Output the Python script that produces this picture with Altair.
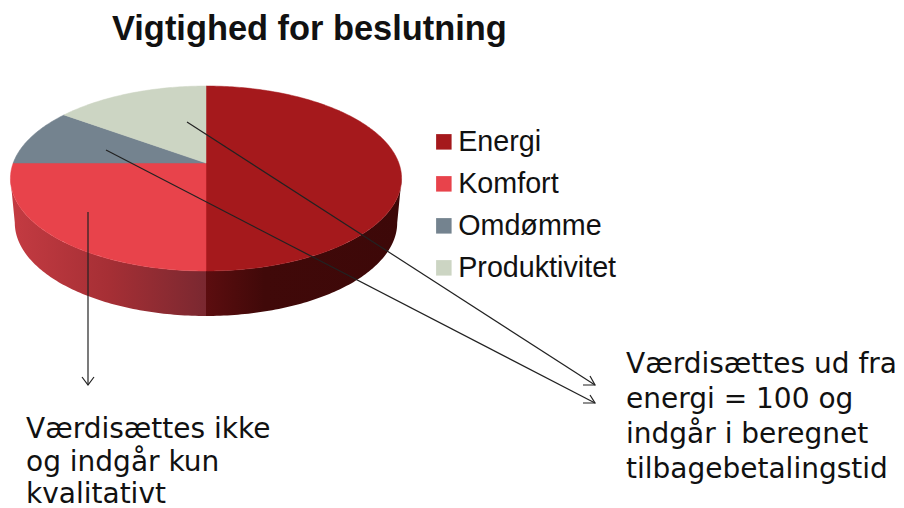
import math
import altair as alt
import pandas as pd

categories = ["Energi", "Komfort", "Omdømme", "Produktivitet"]
shares = [50, 25, 10, 15]
colors = ["#A5191C", "#E8434B", "#74838F", "#CCD5C3"]
title_text = "Vigtighed for beslutning"
note_left = ["Værdisættes ikke", "og indgår kun", "kvalitativt"]
note_right = ["Værdisættes ud fra", "energi = 100 og", "indgår i beregnet", "tilbagebetalingstid"]

W, H = 888, 500
x_scale = alt.Scale(domain=[8, 8 + W], range=[0, W])
y_scale = alt.Scale(domain=[8 + H, 8], range=[H, 0])
X = alt.X("x:Q", scale=x_scale, axis=None)
Y = alt.Y("y:Q", scale=y_scale, axis=None)

CX, CY, A, B, K = 206.0, 163.0, 192.8, 89.9, 0.1676
A2, B2, CY2 = 188.5, 90.7, 207.0
SIDE = math.acos(-K) / (2 * math.pi)  # rim fraction where the pie is widest


def rim(frac, a, b, cy):
    t = 2 * math.pi * frac
    u, v = math.sin(t), math.cos(t)
    d = 1 + K * v
    return CX + a * u / d, cy - b * v / d


def arc_pts(f0, f1, a, b, cy):
    n = max(4, int((f1 - f0) * 400))
    return [rim(f0 + (f1 - f0) * i / n, a, b, cy) for i in range(n + 1)]


def frame(pts, cat=None):
    closed = pts + [pts[0]]
    return pd.DataFrame(
        {"i": range(len(closed)), "x": [p[0] for p in closed], "y": [p[1] for p in closed], "Kategori": cat}
    )


# cumulative fractions
edges = [0.0]
for s in shares:
    edges.append(edges[-1] + s / sum(shares))

color_scale = alt.Scale(domain=categories, range=colors)

tops = []
for c, f0, f1 in zip(categories, edges[:-1], edges[1:]):
    tops.append(frame([(CX, CY)] + arc_pts(f0, f1, A, B, CY), c))
top_df = pd.concat(tops)

top_layer = alt.Chart(top_df).mark_line(filled=True, strokeWidth=0.5).encode(
    x=X,
    y=Y,
    order="i:Q",
    color=alt.Color(
        "Kategori:N",
        scale=color_scale,
        sort=categories,
        legend=alt.Legend(
            title=None,
            orient="none",
            legendX=421.5,
            legendY=119.5,
            padding=0,
            symbolType="square",
            symbolSize=240,
            symbolStrokeWidth=0,
            labelFont="Liberation Sans",
            labelFontSize=28.7,
            labelColor="#111111",
            labelOffset=0,
            rowPadding=12,
        ),
    ),
    stroke=alt.Stroke("Kategori:N", scale=color_scale, legend=None),
    detail="Kategori:N",
)


def wall(f0, f1, stops):
    pts = arc_pts(f0, f1, A, B, CY) + arc_pts(f0, f1, A2, B2, CY2)[::-1]
    grad = alt.Gradient(
        gradient="linear",
        x1=0, x2=1, y1=0, y2=0,
        stops=[alt.GradientStop(offset=o, color=c) for o, c in stops],
    )
    return alt.Chart(frame(pts)).mark_line(filled=True, fill=grad, strokeOpacity=0).encode(x=X, y=Y, order="i:Q")


wall_energi = wall(SIDE, edges[1], [(0, "#5C0D0F"), (0.3, "#400909"), (1, "#3D0808")])
wall_komfort = wall(edges[1], 1 - SIDE, [(0, "#C43B42"), (0.5, "#A62F35"), (1, "#7A2830")])

leaders = [
    [(88, 212), (88, 385)],
    [(82, 377), (88, 385), (94, 377)],
    [(187, 122), (595, 385)],
    [(590, 376), (595, 385), (583, 385)],
    [(106, 150), (595, 403)],
    [(590, 395), (595, 403), (583, 403)],
]
lead_rows = []
for k, seg in enumerate(leaders):
    for i, (x, y) in enumerate(seg):
        lead_rows.append({"seg": k, "i": i, "x": x, "y": y})
lead_layer = alt.Chart(pd.DataFrame(lead_rows)).mark_line(color="#222222", strokeWidth=1.2).encode(
    x=X, y=Y, order="i:Q", detail="seg:N"
)


def notes(lines, x, ys, size):
    rows = pd.DataFrame({"t": lines, "x": x, "y": ys})
    return alt.Chart(rows).mark_text(
        align="left", baseline="middle", font="DejaVu Sans", fontSize=size, color="#111111"
    ).encode(x=X, y=Y, text="t:N")


left_layer = notes(note_left, 26, [429.6, 462.5, 494.5], 28)
right_layer = notes(note_right, 626, [365 + i * 34.9 for i in range(4)], 28)

chart = alt.layer(wall_energi, wall_komfort, top_layer, lead_layer, left_layer, right_layer).properties(
    width=W,
    height=H,
    padding=0,
    autosize=alt.AutoSizeParams(type="none"),
    title=alt.TitleParams(
        title_text,
        anchor="start",
        dx=104,
        dy=43.5,
        font="Liberation Sans",
        fontSize=34.4,
        fontWeight="bold",
        color="#111111",
    ),
).configure_view(stroke=None)

chart.save("out.html", embed_options={"renderer": "svg", "actions": False})
